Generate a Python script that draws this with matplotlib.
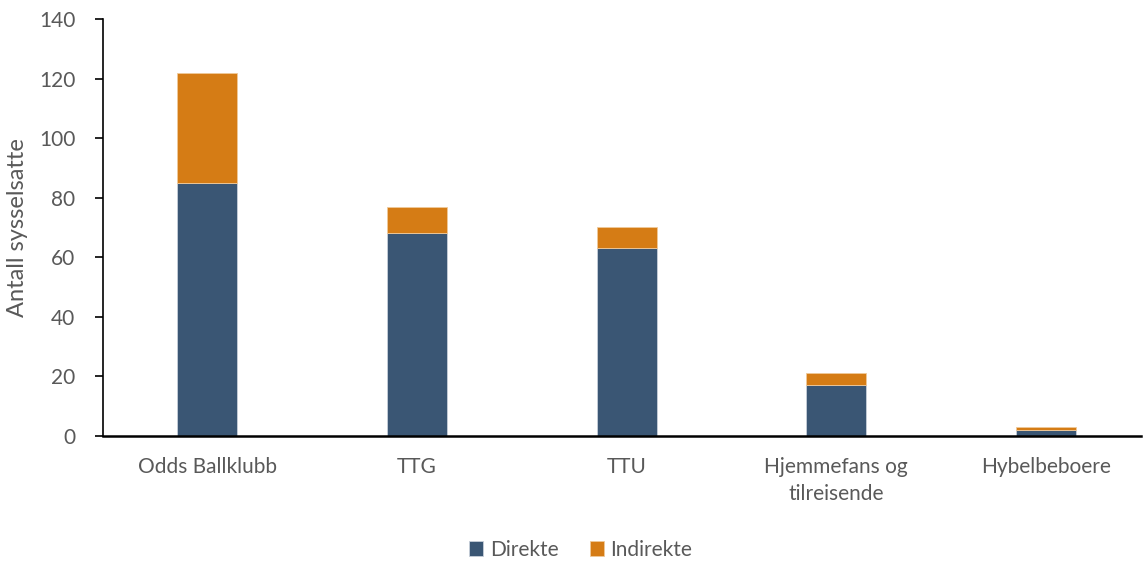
import matplotlib
matplotlib.use("Agg")
from matplotlib import pyplot as plt

categories = ["Odds Ballklubb", "TTG", "TTU", "Hjemmefans og\ntilreisende", "Hybelbeboere"]
direkte = [85, 68, 63, 17, 2]
indirekte = [37, 9, 7, 4, 1]

plt.rcParams['font.family'] = ['Lato', 'DejaVu Sans']

fig = plt.figure(figsize=(11.45, 5.63), dpi=100)
ax = fig.add_axes([0.09, 0.2256, 0.9065, 0.7407])

x = list(range(len(categories)))
ax.bar(x, direkte, width=0.286, color='#3A5674', edgecolor='#c8d0da', linewidth=0.6, label="Direkte")
ax.bar(x, indirekte, width=0.286, bottom=direkte, color='#D57C15', edgecolor='#f0c99a', linewidth=0.6, label="Indirekte")

ax.set_xlim(-0.496, 4.453)
ax.set_ylim(0, 140)
ax.set_yticks(range(0, 141, 20))
ax.set_xticks(x)
ax.set_xticklabels(categories, fontsize=15, color='#595959', linespacing=1.45)
ax.tick_params(axis='x', length=0, pad=15)
ax.tick_params(axis='y', direction='out', length=6, width=1.2, labelsize=15, labelcolor='#595959', pad=14)

ax.spines['top'].set_visible(False)
ax.spines['right'].set_visible(False)
ax.spines['left'].set_linewidth(1.2)
ax.spines['bottom'].set_linewidth(1.8)
ax.set_ylabel("Antall sysselsatte", fontsize=17, color='#595959', labelpad=8)

ax.legend(loc='center', bbox_to_anchor=(0.46, -0.273), ncol=2, frameon=False,
          fontsize=15, labelcolor='#595959', handlelength=0.7, handleheight=0.7,
          handletextpad=0.3, columnspacing=1.5)

fig.savefig("out.png", dpi=100)
